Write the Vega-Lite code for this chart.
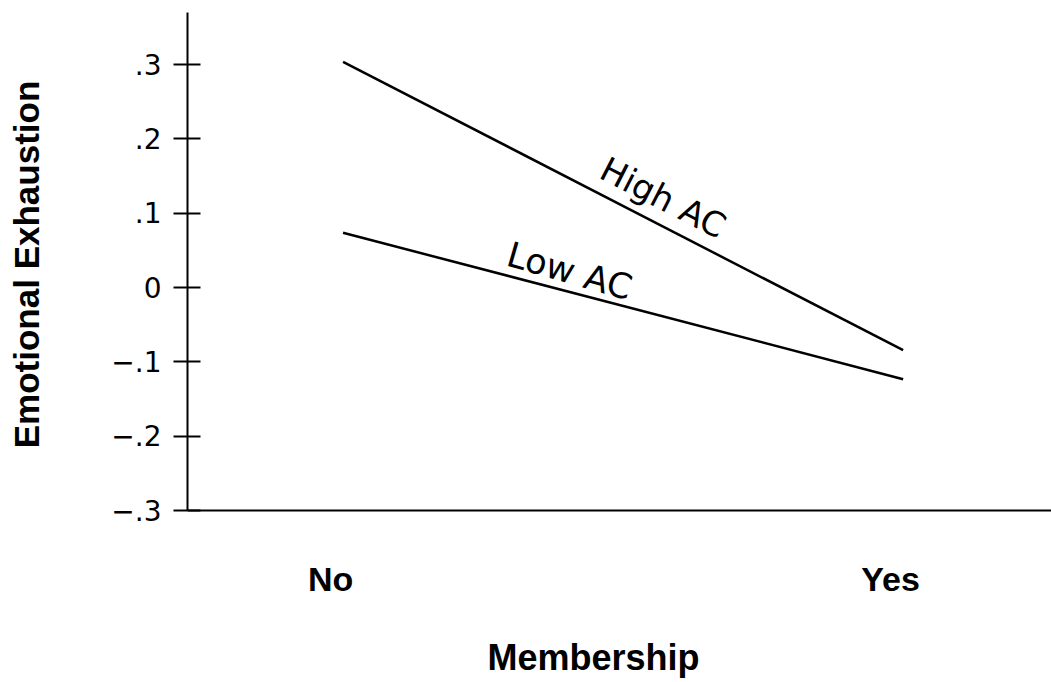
{
  "$schema": "https://vega.github.io/schema/vega-lite/v6.json",
  "width": 864,
  "height": 498,
  "autosize": {"type": "none"},
  "padding": {"left": 187, "top": 12, "right": 0, "bottom": 172},
  "background": "white",
  "config": {"view": {"stroke": null}},
  "datasets": {
    "lines": [
      {"membership": 0, "group": "High AC", "ee": 0.303},
      {"membership": 1, "group": "High AC", "ee": -0.085},
      {"membership": 0, "group": "Low AC", "ee": 0.073},
      {"membership": 1, "group": "Low AC", "ee": -0.124}
    ],
    "high": [{"label": "High AC", "x": 0.57, "y": 0.118}],
    "low": [{"label": "Low AC", "x": 0.404, "y": 0.02}]
  },
  "layer": [
    {
      "data": {"name": "lines"},
      "mark": {"type": "line", "color": "black", "strokeWidth": 2.5},
      "encoding": {
        "x": {
          "field": "membership", "type": "quantitative",
          "scale": {"domain": [-0.2786, 1.264], "nice": false, "zero": false},
          "axis": {
            "values": [0, 1],
            "labelExpr": "datum.value == 0 ? 'No' : 'Yes'",
            "ticks": false, "tickSize": 0, "grid": false,
            "domainColor": "black", "domainWidth": 2,
            "labelFont": "Liberation Sans", "labelFontWeight": "bold", "labelFontSize": 34,
            "labelColor": "black", "labelBaseline": "alphabetic", "labelPadding": 80,
            "labelOffset": -13, "labelFlush": false, "labelOverlap": false,
            "title": "Membership",
            "titleFont": "Liberation Sans", "titleFontWeight": "bold", "titleFontSize": 36,
            "titleColor": "black", "titleBaseline": "alphabetic",
            "titleX": 406, "titleY": 159
          }
        },
        "y": {
          "field": "ee", "type": "quantitative",
          "scale": {"domain": [-0.3, 0.37], "nice": false, "zero": false},
          "axis": {
            "values": [-0.3, -0.2, -0.1, 0, 0.1, 0.2, 0.3],
            "labelExpr": "datum.value == 0 ? '0' : replace(format(datum.value, '.1f'), '0.', '.')",
            "grid": false,
            "domainColor": "black", "domainWidth": 2,
            "tickColor": "black", "tickWidth": 2, "tickSize": 14,
            "labelFont": "DejaVu Sans", "labelFontSize": 28, "labelColor": "black",
            "labelPadding": 12, "labelOffset": 2, "labelBaseline": "middle",
            "labelOverlap": false, "labelFlush": false,
            "title": "Emotional Exhaustion",
            "titleFont": "Liberation Sans", "titleFontWeight": "bold", "titleFontSize": 35,
            "titleColor": "black", "titleAngle": 270, "titleAlign": "center",
            "titleBaseline": "middle", "titleX": -160, "titleY": 252
          }
        },
        "detail": {"field": "group", "type": "nominal"}
      }
    },
    {
      "data": {"name": "high"},
      "mark": {"type": "text", "angle": 27.2, "font": "DejaVu Sans", "fontSize": 34, "color": "black", "align": "center", "baseline": "middle"},
      "encoding": {
        "x": {"field": "x", "type": "quantitative"},
        "y": {
          "field": "y", "type": "quantitative",
          "axis": {
            "orient": "left", "values": [-0.3, -0.2, -0.1, 0, 0.1, 0.2, 0.3],
            "labels": false, "domain": false, "grid": false, "title": null,
            "tickColor": "black", "tickWidth": 2, "tickSize": -13
          }
        },
        "text": {"field": "label"}
      }
    },
    {
      "data": {"name": "low"},
      "mark": {"type": "text", "angle": 16, "font": "DejaVu Sans", "fontSize": 35, "color": "black", "align": "center", "baseline": "middle"},
      "encoding": {
        "x": {"field": "x", "type": "quantitative"},
        "y": {"field": "y", "type": "quantitative", "axis": null},
        "text": {"field": "label"}
      }
    }
  ],
  "resolve": {"axis": {"y": "independent"}}
}
